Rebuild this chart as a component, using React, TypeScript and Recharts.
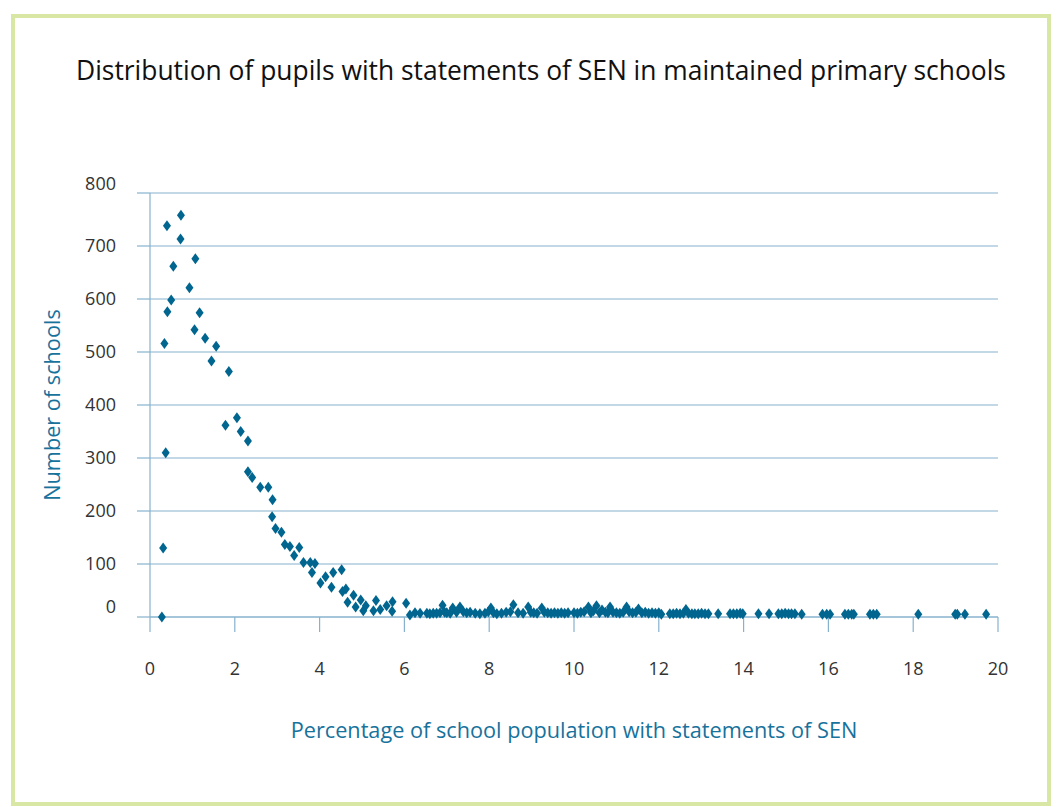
import { ScatterChart, Scatter, XAxis, YAxis, CartesianGrid, Label } from "recharts";

// percentage of pupils with statements (x) and number of schools (y), peak part
const peakPct = [
  0.28, 0.31, 0.37, 0.34, 0.41, 0.4, 0.5, 0.55, 0.72, 0.73, 0.93, 1.05, 1.07, 1.17, 1.3, 1.45,
  1.56, 1.78, 1.86, 2.05, 2.14, 2.31, 2.31, 2.41, 2.6, 2.79, 2.89, 2.88, 2.96, 3.1, 3.18, 3.3,
  3.4, 3.52, 3.62, 3.78, 3.89, 3.82, 4.02, 4.14, 4.28, 4.32, 4.52, 4.54, 4.62, 4.66, 4.8, 4.85,
  4.97, 5.03, 5.09, 5.27, 5.33, 5.43, 5.58, 5.72, 5.71, 6.04, 6.13,
];
const peakSchools = [
  0, 130, 310, 516, 576, 738, 598, 662, 713, 758, 621, 542, 676, 574, 526, 483,
  511, 362, 463, 376, 350, 332, 274, 263, 245, 245, 221, 189, 167, 160, 137, 133,
  116, 131, 103, 103, 101, 84, 64, 76, 56, 84, 89, 48, 53, 28, 41, 19,
  32, 12, 21, 12, 31, 14, 21, 29, 11, 26, 4,
];

// long flat tail
const tailPct = [
  6.25, 6.37, 6.53, 6.6, 6.68, 6.76, 6.84, 6.9, 6.95, 7.0, 7.08, 7.14, 7.23, 7.31, 7.39, 7.47,
  7.55, 7.67, 7.78, 7.9, 7.98, 8.04, 8.1, 8.18, 8.29, 8.4, 8.5, 8.57, 8.68, 8.8, 8.92, 8.98,
  9.05, 9.13, 9.24, 9.3, 9.38, 9.46, 9.54, 9.62, 9.7, 9.78, 9.86, 10.0, 10.08, 10.16, 10.24, 10.34,
  10.4, 10.46, 10.53, 10.6, 10.66, 10.74, 10.8, 10.85, 10.92, 11.0, 11.08, 11.16, 11.24, 11.3,
  11.38, 11.46, 11.52, 11.6, 11.68, 11.76, 11.84, 11.92, 12.0, 12.06, 12.26, 12.34, 12.42, 12.5,
  12.58, 12.64, 12.7, 12.78, 12.85, 12.93, 13.01, 13.09, 13.17, 13.4, 13.68, 13.76, 13.84, 13.92,
  13.98, 14.35, 14.6, 14.82, 14.9, 14.98, 15.06, 15.13, 15.21, 15.37, 15.86, 15.96, 16.04, 16.39,
  16.47, 16.55, 16.6, 16.98, 17.06, 17.14, 18.12, 18.99, 19.04, 19.22, 19.72,
];
const tailSchools = [
  8, 7, 7, 6, 7, 7, 8, 22, 9, 8, 7, 17, 9, 19, 10, 8,
  9, 7, 6, 7, 10, 17, 8, 6, 7, 9, 10, 23, 8, 7, 19, 9,
  8, 7, 17, 9, 8, 7, 8, 7, 8, 7, 8, 8, 7, 9, 10, 19,
  8, 12, 21, 8, 13, 9, 8, 19, 9, 8, 7, 9, 19, 10,
  8, 9, 15, 8, 9, 7, 8, 7, 8, 5, 6, 6, 7, 6,
  7, 14, 7, 6, 6, 6, 7, 6, 6, 6, 6, 6, 6, 7,
  6, 6, 6, 6, 6, 7, 6, 6, 6, 5, 5, 5, 5, 5,
  5, 5, 5, 5, 5, 5, 5, 5, 5, 5, 5,
];

const xTicks = [0, 2, 4, 6, 8, 10, 12, 14, 16, 18, 20];
const yTicks = [0, 100, 200, 300, 400, 500, 600, 700, 800];

const points = [
  ...peakPct.map((p, i) => ({ pct: p, schools: peakSchools[i] })),
  ...tailPct.map((p, i) => ({ pct: p, schools: tailSchools[i] })),
];

const FONT = "'Open Sans', sans-serif";
const LINE = "#86b2cd";
const BLUE = "#17729c";

function Diamond(props: any) {
  const { cx, cy } = props;
  if (cx == null || cy == null) return null;
  return (
    <polygon
      points={`${cx},${cy - 5.5} ${cx + 4},${cy} ${cx},${cy + 5.5} ${cx - 4},${cy}`}
      fill="#00658f"
    />
  );
}

function YTick({ x, y, payload }: any) {
  // first and last labels sit a little above their gridline in the original
  const shift = payload.value === 0 ? -10 : payload.value === 800 ? -9 : 0;
  return (
    <text x={x} y={y + shift} dy="0.35em" textAnchor="end" fill="#333" fontSize={18} fontFamily={FONT}>
      {payload.value}
    </text>
  );
}

export default function App() {
  return (
    <div style={{ position: "absolute", left: 0, top: 0, width: 1058, height: 807, background: "#fff", fontFamily: FONT }}>
      <div
        style={{
          position: "absolute",
          left: 11,
          top: 14,
          width: 1032,
          height: 784,
          border: "4px solid #d9e7a4",
        }}
      />
      <div
        style={{
          position: "absolute",
          left: 0,
          top: 52,
          width: 1082,
          textAlign: "center",
          fontSize: 26.4,
          color: "#111",
        }}
      >
        Distribution of pupils with statements of SEN in maintained primary schools
      </div>
      <div style={{ position: "absolute", left: 0, top: 0 }}>
        <ScatterChart width={1058} height={807} margin={{ top: 193, right: 60, bottom: 60, left: 0 }}>
          <CartesianGrid horizontal vertical={false} stroke={LINE} strokeWidth={1.2} />
          <XAxis
            type="number"
            dataKey="pct"
            domain={[0, 20]}
            ticks={xTicks}
            interval={0}
            height={130}
            tickSize={15}
            tickMargin={30}
            axisLine={{ stroke: LINE, strokeWidth: 1.2 }}
            tickLine={{ stroke: LINE, strokeWidth: 1.2 }}
            tick={{ fill: "#333", fontSize: 18, fontFamily: FONT }}
          >
            <Label
              value="Percentage of school population with statements of SEN"
              position="insideBottom"
              offset={9}
              fill={BLUE}
              fontSize={21.7}
              fontFamily={FONT}
            />
          </XAxis>
          <YAxis
            type="number"
            dataKey="schools"
            domain={[0, 800]}
            ticks={yTicks}
            interval={0}
            width={150}
            tickSize={13}
            tickMargin={21}
            axisLine={{ stroke: LINE, strokeWidth: 1.2 }}
            tickLine={{ stroke: LINE, strokeWidth: 1.2 }}
            tick={<YTick />}
          >
            <Label
              value="Number of schools"
              angle={-90}
              position="insideLeft"
              offset={52}
              fill={BLUE}
              fontSize={21.7}
              fontFamily={FONT}
              style={{ textAnchor: "middle" }}
            />
          </YAxis>
          <Scatter data={points} shape={<Diamond />} isAnimationActive={false} />
        </ScatterChart>
      </div>
    </div>
  );
}
